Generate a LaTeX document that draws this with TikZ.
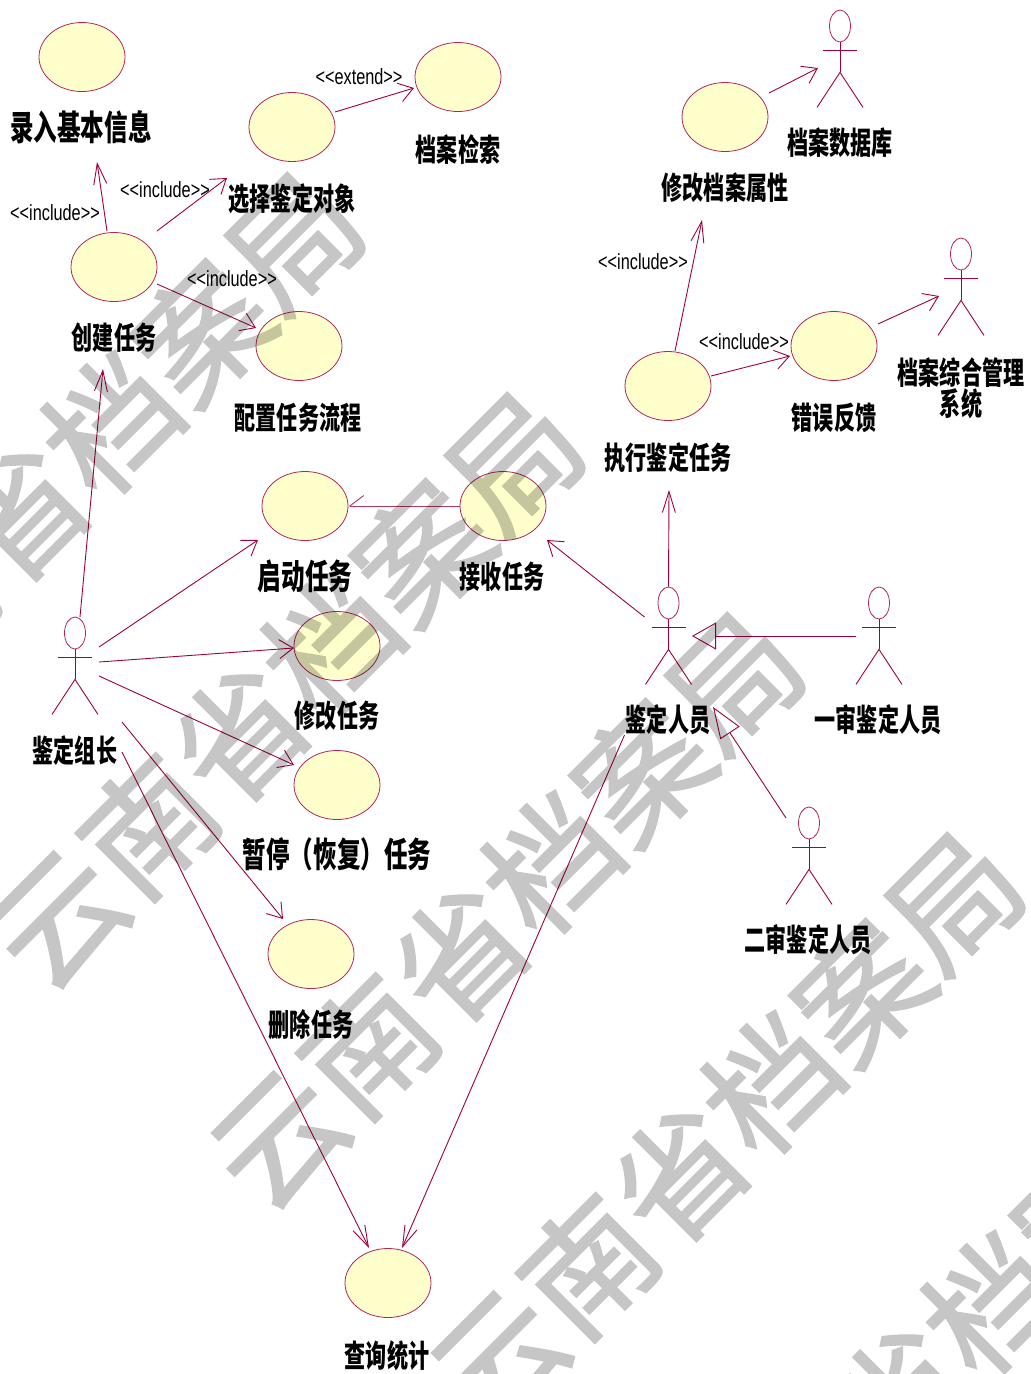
\documentclass[tikz,border=0pt]{standalone}
\usepackage{fontspec}
\usetikzlibrary{shapes.geometric,arrows.meta}
\newfontfamily\cjklabel[FakeStretch=0.68]{Noto Sans CJK SC}
\newfontfamily\cjkmark[FakeBold=1.6]{Noto Sans CJK SC}
\newfontfamily\stereofont[FakeStretch=0.74]{Liberation Sans}
\definecolor{umlline}{HTML}{A00040}
\definecolor{umlfill}{HTML}{FFFFCC}
\definecolor{wmgray}{HTML}{C6C6C6}
\tikzset{
  usecase/.style={ellipse,draw=umlline!85!white,fill=umlfill,line width=0.8pt,minimum width=86pt,minimum height=69pt,inner sep=0pt},
  lbl/.style={font=\cjklabel\bfseries\fontsize{31}{31}\selectfont,text=black,inner sep=0pt,align=center,yshift=-1pt},
  lblbig/.style={font=\cjklabel\bfseries\fontsize{34.6}{34}\selectfont,text=black,inner sep=0pt,align=center,yshift=-1pt},
  stereo/.style={font=\stereofont\fontsize{22}{24}\selectfont,text=black,inner sep=0pt},
  head/.style={ellipse,draw=umlline!85!white,fill=white,line width=0.8pt,minimum width=21pt,minimum height=32pt,inner sep=0pt},
  limb/.style={draw=umlline,line width=0.9pt},
  dep/.style={draw=umlline,line width=0.9pt,-{Straight Barb[length=14pt,width=19pt,line width=0.9pt]}},
  depsteep/.style={draw=umlline,line width=0.9pt,-{Straight Barb[length=21pt,width=13pt,line width=0.9pt]}},
  dephalf/.style={draw=umlline!80!white,line width=0.9pt,-{Straight Barb[right,length=14pt,width=21pt,line width=0.9pt]}},
  gen/.style={draw=umlline,line width=0.9pt,-{Triangle[open,length=24pt,width=27pt,fill=white,line width=0.9pt]}},
  gensteep/.style={draw=umlline,line width=0.9pt,-{Triangle[open,length=31pt,width=23pt,fill=white,line width=0.9pt]}},
  wm/.style={font=\cjkmark\fontsize{129}{134}\selectfont,text=wmgray,rotate=45,inner sep=0pt}
}
\newcommand{\umlactor}[3]{%
  \node[head] (#1) at (#2,#3+16) {};
  \draw[limb] (#1.south) -- ++(0,30) coordinate (#1hip);
  \draw[limb] ([shift={(-17,8)}]#1.south) -- ++(34,0);
  \draw[limb] ([shift={(-23,35)}]#1hip) -- (#1hip) -- ([shift={(23,35)}]#1hip);
}
\begin{document}
\begin{tikzpicture}[x=1pt,y=-1pt]
\useasboundingbox (0,0) rectangle (1031,1374);
\fill[white] (0,0) rectangle (1031,1374);
% use cases
\node[usecase] (basic)   at (82,57) {};
\node[usecase] (search)  at (458,77) {};
\node[usecase] (select)  at (292,127) {};
\node[usecase] (create)  at (114,267) {};
\node[usecase] (config)  at (299,346) {};
\node[usecase] (attr)    at (725,117) {};
\node[usecase] (exec)    at (668,386) {};
\node[usecase] (err)     at (834,346) {};
\node[usecase] (start)   at (305,506) {};
\node[usecase] (recv)    at (503,506) {};
\node[usecase] (modify)  at (337,646) {};
\node[usecase] (pause)   at (337,785) {};
\node[usecase] (del)     at (311,954) {};
\node[usecase] (query)   at (388,1283) {};
% actors
\umlactor{leader}{75}{617}
\umlactor{appraiser}{668.5}{587}
\umlactor{firstrev}{879}{587}
\umlactor{secondrev}{809}{807}
\umlactor{archivedb}{840}{10}
\umlactor{archivesys}{961}{238}
% labels
\node[lblbig] (Lbasic)  at (81,126) {录入基本信息};
\node[lbl] (Lsearch) at (458,148) {档案检索};
\node[lbl] (Lselect) at (292,198) {选择鉴定对象};
\node[lbl] (Lcreate) at (114,337) {创建任务};
\node[lbl] (Lconfig) at (298,417) {配置任务流程};
\node[lbl] (Lattr)   at (725,187) {修改档案属性};
\node[lbl] (Ldb)     at (840,142) {档案数据库};
\node[lbl] (Lexec)   at (668,457) {执行鉴定任务};
\node[lbl] (Lerr)    at (834,417) {错误反馈};
\node[lbl] (Lsys)    at (961,387) {档案综合管理\\系统};
\node[lblbig] (Lstart)  at (305,575) {启动任务};
\node[lbl] (Lrecv)   at (502,576) {接收任务};
\node[lbl] (Lmodify) at (337,715) {修改任务};
\node[lblbig] (Lpause)  at (337,853) {暂停（恢复）任务};
\node[lbl] (Ldel)    at (311,1024) {删除任务};
\node[lbl] (Lquery)  at (387,1355) {查询统计};
\node[lbl] (Lleader) at (75,750) {鉴定组长};
\node[lbl] (Lappr)   at (668,719) {鉴定人员};
\node[lbl] (Lfirst)  at (878,719) {一审鉴定人员};
\node[lbl] (Lsecond) at (808,939) {二审鉴定人员};
% connectors
\draw[depsteep] ([shift={(-7,-36)}]create.center) -- ([shift={(16,35)}]Lbasic.center);
\draw[dep] ([shift={(43,-36)}]create.center) -- ([shift={(-65,-21)}]Lselect.center);
\draw[dep] ([shift={(43,17)}]create.center) -- ([shift={(-43,-18)}]config.center);
\draw[dep] ([shift={(43,-15)}]select.center) -- ([shift={(-44,11)}]search.center);
\draw[depsteep] ([shift={(7,-35)}]exec.center) -- ([shift={(-23,32)}]Lattr.center);
\draw[dep] ([shift={(43,-10)}]exec.center) -- ([shift={(-44,10)}]err.center);
\draw[dep] ([shift={(44,-24)}]attr.center) -- ([shift={(-22,42)}]archivedb.center);
\draw[dep] ([shift={(44,-22)}]err.center) -- ([shift={(-22,42)}]archivesys.center);
\draw[dephalf] (recv.west) -- (start.east);
\draw[dep] ([shift={(-24,14)}]appraiser.center) -- ([shift={(44,34)}]recv.center);
\draw[depsteep] (appraiser.north) -- ([shift={(1,32)}]Lexec.center);
\draw[depsteep] ([shift={(5,-16)}]leader.center) -- ([shift={(-11,31)}]Lcreate.center);
\draw[dep] ([shift={(24,14)}]leader.center) -- ([shift={(-47,34)}]start.center);
\draw[dep] ([shift={(24,29)}]leader.center) -- ([shift={(-43,2)}]modify.center);
\draw[dep] ([shift={(24,43)}]leader.center) -- ([shift={(-43,-20)}]pause.center);
\draw[dep] ([shift={(47,89)}]leader.center) -- ([shift={(-28,-35)}]del.center);
\draw[depsteep] ([shift={(47,119)}]leader.center) -- ([shift={(-19,-35)}]query.center);
\draw[depsteep] ([shift={(-44,132)}]appraiser.center) -- ([shift={(14,-35)}]query.center);
\draw[gen] ([shift={(-23,33)}]firstrev.center) -- ([shift={(23.5,33)}]appraiser.center);
\draw[gensteep] ([shift={(-23,-5)}]secondrev.center) -- ([shift={(44.5,104)}]appraiser.center);
% stereotypes
\node[stereo] (s1) at (55,213) {<{}<include>{}>};
\node[stereo] (s2) at (165,190) {<{}<include>{}>};
\node[stereo] (s3) at (232,279) {<{}<include>{}>};
\node[stereo] (s4) at (359,77) {<{}<extend>{}>};
\node[stereo] (s5) at (643,262) {<{}<include>{}>};
\node[stereo] (s6) at (744,342) {<{}<include>{}>};
% watermark
\begin{scope}[blend mode=multiply,transparency group]
\begin{scope}[blend mode=normal]
\clip (0,0) rectangle (1031,1374);
\node[wm] (w1) at (65,469) {云南省档案局};
\node[wm] (w2) at (285,689) {云南省档案局};
\node[wm] (w3) at (505,909) {云南省档案局};
\node[wm] (w4) at (725,1129) {云南省档案局};
\node[wm] (w5) at (945,1349) {云南省档案局};
\end{scope}
\end{scope}
\end{tikzpicture}
\end{document}
